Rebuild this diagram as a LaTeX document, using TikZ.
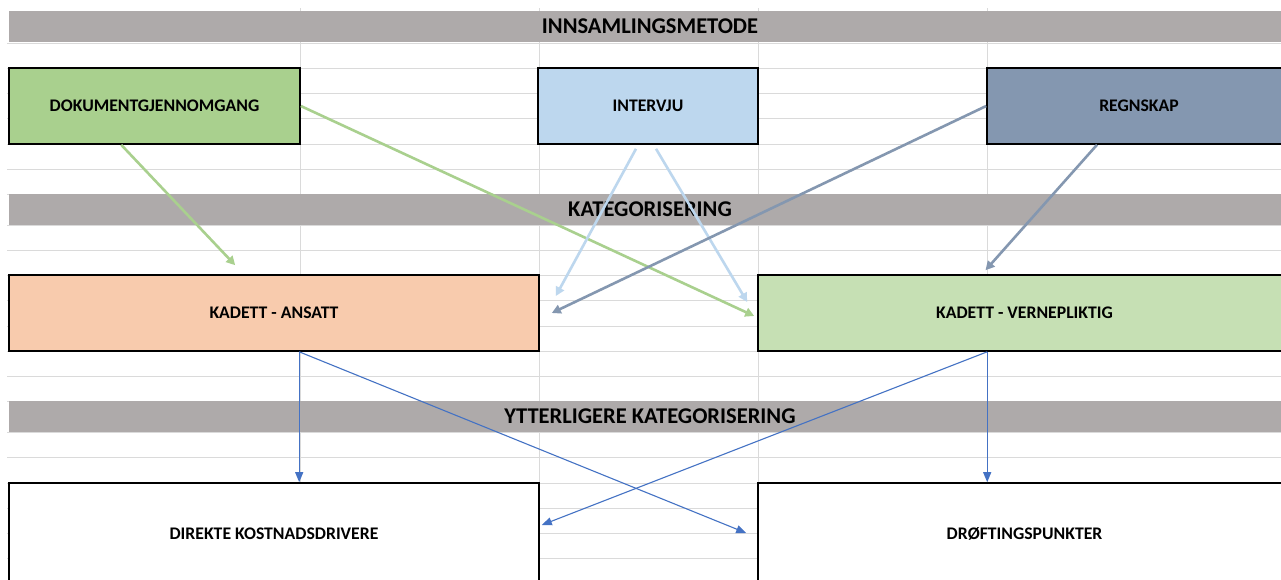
\documentclass[tikz,border=0pt]{standalone}
\usepackage{fontspec}
\setmainfont{Carlito}
\usetikzlibrary{arrows.meta}
\usepackage{xcolor}
\definecolor{bandgrey}{RGB}{174,170,170}
\definecolor{gridgrey}{RGB}{218,218,218}
\definecolor{dokgreen}{RGB}{169,208,142}
\definecolor{intblue}{RGB}{189,215,238}
\definecolor{regslate}{RGB}{132,151,176}
\definecolor{ansorange}{RGB}{248,203,173}
\definecolor{vergreen}{RGB}{198,224,180}
\definecolor{lineblue}{RGB}{68,114,196}

\begin{document}
\begin{tikzpicture}[x=1pt,y=-1pt,
		box/.style={draw=black,line width=1.6pt,inner sep=0pt,font=\fontsize{17.7}{20}\selectfont\bfseries},
		band/.style={fill=bandgrey,inner sep=0pt,minimum width=1282pt,minimum height=31pt,font=\fontsize{22.5}{26}\selectfont\bfseries},
		fatarrow/.style={line width=2.6pt,-{Triangle[length=9pt,width=9pt]}},
		finearrow/.style={lineblue,line width=1.1pt,-{Triangle[length=10pt,width=8pt]}}]
	\useasboundingbox (0,0) rectangle (1281,579);
	\clip (0,0) rectangle (1281,579);
	\fill[white] (0,0) rectangle (1281,579);
	
	% sheet grid
	\foreach \r in {43,68,93,118,144,169,194,225,250,275,300,326,351,376,401,432,457,483,508,533,558}
		\draw[gridgrey,line width=1pt] (7,\r) -- (1281,\r);
	\foreach \c in {300,539,758,987}
		\draw[gridgrey,line width=1pt] (\c,8) -- (\c,579);
	
	% headings
	\node[band](b1) at (650,26.5){INNSAMLINGSMETODE};
	\node[band](b2) at (650,209.5){KATEGORISERING};
	\node[band](b3) at (650,416.5){YTTERLIGERE KATEGORISERING};
	
	% methods
	\node(dok) at (154.5,106)[box,fill=dokgreen,minimum width=291pt,minimum height=76pt]{DOKUMENTGJENNOMGANG};
	\node(int) at (648,106)[box,fill=intblue,minimum width=220pt,minimum height=76pt]{INTERVJU};
	\node(reg) at (1139,106)[box,fill=regslate,minimum width=304pt,minimum height=76pt]{REGNSKAP};
	
	% categories
	\node(ans) at (274,313)[box,fill=ansorange,minimum width=530pt,minimum height=76pt]{KADETT - ANSATT};
	\node(ver) at (1024.5,313)[box,fill=vergreen,minimum width=533pt,minimum height=76pt]{KADETT - VERNEPLIKTIG};
	
	% further categories
	\node(dir) at (274,534)[box,fill=white,minimum width=530pt,minimum height=102pt]{DIREKTE KOSTNADSDRIVERE};
	\node(drf) at (1024.5,534)[box,fill=white,minimum width=533pt,minimum height=102pt]{DRØFTINGSPUNKTER};
	
	\draw[fatarrow,dokgreen]([xshift=113pt]dok.south west) -- ([xshift=227pt,yshift=9pt]ans.north west);
	\draw[fatarrow,dokgreen](dok.east) -- ([xshift=-3pt,yshift=-3pt]ver.west);
	\draw[fatarrow,intblue]([xshift=-12pt,yshift=-4pt]int.south) -- ([xshift=16pt,yshift=17pt]ans.east);
	\draw[fatarrow,intblue]([xshift=8pt,yshift=-4pt]int.south) -- ([xshift=-10pt,yshift=11pt]ver.west);
	\draw[fatarrow,regslate](reg.west) -- ([xshift=12pt]ans.east);
	\draw[fatarrow,regslate]([xshift=-42pt]reg.south) -- ([xshift=-39pt,yshift=4pt]ver.north);
	
	\draw[finearrow]([xshift=291pt]ans.south west) -- ([xshift=291pt]dir.north west);
	\draw[finearrow]([xshift=291pt]ans.south west) -- ([xshift=-11pt,yshift=1pt]drf.west);
	\draw[finearrow]([xshift=230pt]ver.south west) -- ([xshift=230pt]drf.north west);
	\draw[finearrow]([xshift=230pt]ver.south west) -- ([xshift=2pt,yshift=9pt]dir.east);
\end{tikzpicture}
\end{document}
